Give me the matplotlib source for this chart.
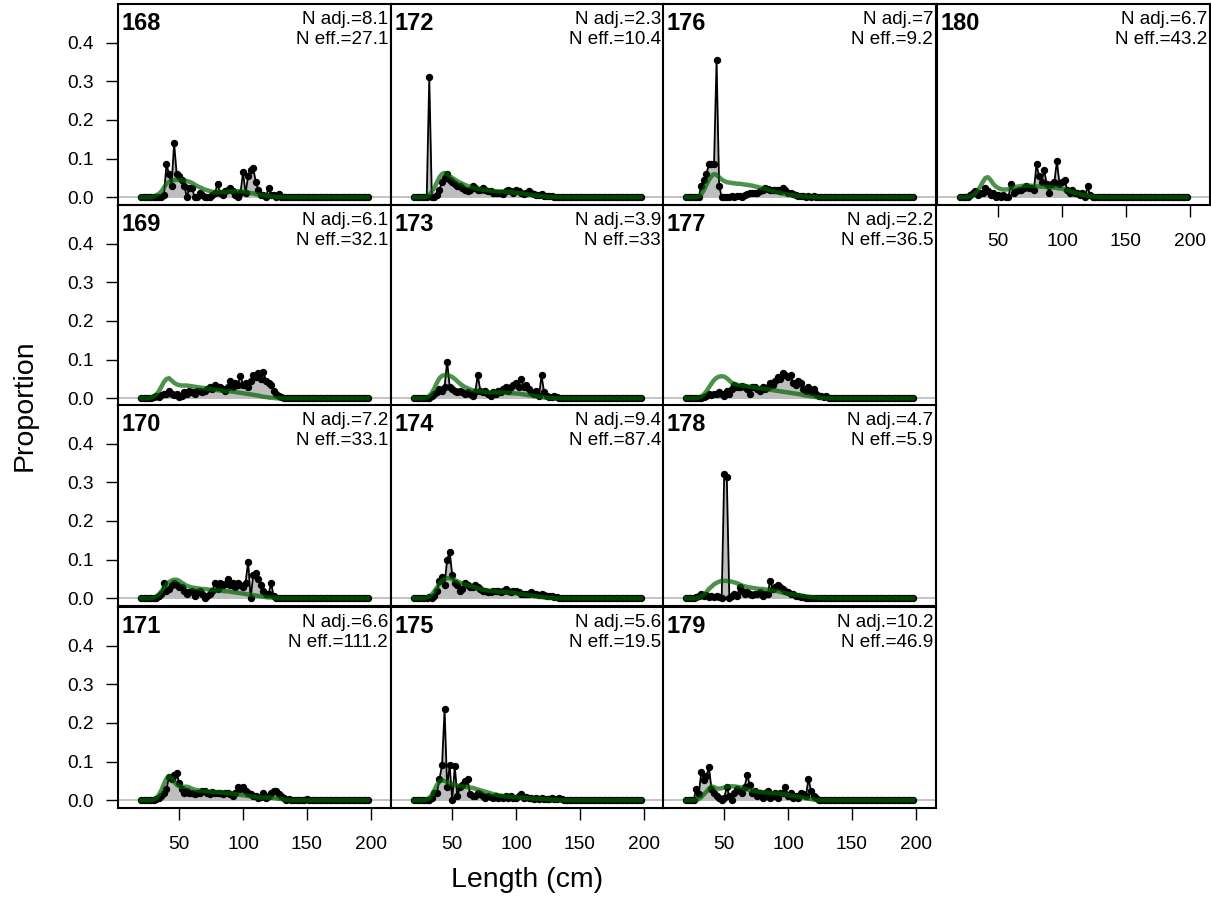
import numpy as np
import matplotlib.pyplot as plt

plt.rcParams['font.family'] = ['Liberation Sans', 'DejaVu Sans']

# length bins (cm)
lengths = np.arange(20, 200, 2)

years = [168, 169, 170, 171, 172, 173, 174, 175, 176, 177, 178, 179, 180]
n_adj = ["8.1", "6.1", "7.2", "6.6", "2.3", "3.9", "9.4", "5.6", "7", "2.2", "4.7", "10.2", "6.7"]
n_eff = ["27.1", "32.1", "33.1", "111.2", "10.4", "33", "87.4", "19.5", "9.2", "36.5", "5.9", "46.9", "43.2"]

# observed proportions, bins 20, 22, ... (rest zero)
obs168 = [0, 0, 0, 0, 0, 0, 0, 0, 0, .005,
          .085, .06, .03, .14, .06, .055, .045, .03, 0, .025,
          .025, 0, 0, .01, .005, 0, 0, 0, .005, .01,
          .035, .01, .005, .015, .02, .025, .015, .005, 0, .01,
          .065, .01, .055, .07, .075, .04, .02, .005, .005, 0,
          .025, .005, .005, 0, .008, 0, 0, 0, 0, 0]
obs169 = [0, 0, 0, 0, 0, .002, .005, .003, .008, .01,
          .012, .018, .01, .008, .012, .003, .005, .015, .01, .02,
          .015, .012, .018, .02, .015, .02, .025, .03, .025, .035,
          .03, .028, .025, .02, .03, .045, .03, .04, .035, .058,
          .035, .04, .03, .045, .06, .055, .065, .05, .068, .045,
          .04, .035, .02, .01, .005, .002, 0, 0, 0, 0]
obs170 = [0, 0, 0, 0, 0, 0, 0, .005, .01, .04,
          .02, .025, .035, .04, .035, .03, .03, .02, .01, .015,
          .02, .005, .015, .02, .01, 0, .005, .01, .02, .04,
          .025, .04, .035, .038, .05, .035, .04, .03, .04, .035,
          .03, .04, .095, 0, .06, .065, .05, .035, .02, .01,
          .01, .04, .005, 0, 0, 0, 0, 0, 0, 0]
obs171 = [0, 0, 0, 0, 0, 0, .002, .005, .01, .02,
          .03, .06, .055, .065, .07, .045, .03, .02, .025, .02,
          .02, .015, .02, .018, .025, .025, .02, .015, .022, .02,
          .018, .02, .015, .02, .018, .015, .01, .02, .035, .03,
          .035, .025, .02, .015, .01, .01, .005, .008, .02, .005,
          .01, .02, .025, .025, .015, .01, .005, 0, .002, 0,
          0, 0, 0, 0, 0, .003]
obs172 = [0, 0, 0, 0, 0, 0, .31, 0, 0, .005,
          .02, .04, .05, .06, .045, .04, .035, .03, .03, .025,
          .02, .015, .02, .03, .025, .02, .02, .025, .02, .015,
          .015, .012, .01, .012, .01, .008, .015, .02, .015, .012,
          .02, .015, .01, .008, .012, .015, .01, .008, .005, .005,
          .008, .003, .002, .002, .003, 0, 0, 0, 0, 0]
obs173 = [0, 0, 0, 0, 0, 0, 0, .005, .01, .015,
          .025, .02, .03, .095, .03, .025, .02, .015, .02, .015,
          .01, .015, .01, .005, .015, .06, .02, .015, .02, .01,
          .005, .015, .01, .02, .015, .025, .03, .02, .03, .035,
          .04, .03, .05, .03, .035, .025, .015, .01, .02, .005,
          .06, .015, .005, .002, .003, .005, .002, 0, 0, 0]
obs174 = [0, 0, 0, 0, 0, 0, .002, 0, .005, .02,
          .045, .055, .035, .1, .12, .06, .04, .035, .02, .025,
          .04, .035, .03, .03, .035, .03, .025, .02, .018, .015,
          .015, .02, .018, .02, .015, .02, .025, .018, .015, .02,
          .018, .015, .012, .01, .012, .01, .015, .012, .01, .008,
          .01, .008, .005, .005, .005, .003, .002, 0, 0, 0]
obs175 = [0, 0, 0, 0, 0, 0, 0, .005, .02, .02,
          .055, .09, .235, .035, .09, 0, .088, .01, .035, .04,
          .05, .055, .015, .01, .01, .02, .015, .01, .005, .01,
          .008, .005, .01, .005, .008, .005, .01, .005, .01, .005,
          .005, .01, .015, .005, .008, .005, .005, .003, .005, .003,
          .005, .002, .003, .002, .005, .002, .002, .005, .002, 0]
obs176 = [0, 0, 0, 0, 0, 0, .03, .045, .06, .085,
          .087, .085, .355, .03, 0, 0, 0, 0, .002, 0,
          .003, .002, 0, .005, .008, .01, .012, .01, .012, .015,
          .02, .025, .022, .018, .02, .02, .018, .015, .025, .02,
          .01, .012, .008, .005, .003, .002, .003, .001, .002, 0,
          .003, 0, 0, 0, 0, 0, 0, 0, 0, 0]
obs177 = [0, 0, 0, 0, 0, 0, 0, .002, .005, .01,
          .008, .01, .012, .015, .01, .005, .02, .01, .025, .035,
          .03, .03, .032, .03, .025, .01, .03, .028, .025, .02,
          .03, .025, .03, .04, .035, .045, .055, .05, .065, .06,
          .055, .06, .04, .035, .045, .04, .025, .02, .03, .015,
          .025, .01, .005, .005, .003, .005, 0, 0, 0, 0]
obs178 = [0, 0, 0, 0, .002, .005, .01, .005, .008, .003,
          .005, .003, .005, .002, 0, .322, .315, 0, .005, .01,
          .005, .03, .02, .01, .015, .01, .008, .012, .01, .015,
          .005, .01, .01, .045, .025, .03, .035, .03, .025, .02,
          .015, .01, .012, .005, .005, .003, .002, 0, 0, 0]
obs179 = [0, 0, 0, 0, .03, .015, .072, .052, .063, .085,
          .03, .02, .01, .005, 0, .005, .035, .01, 0, .02,
          .03, .025, .02, .035, .065, .04, .02, .025, .01, .02,
          .005, .02, .025, .005, .01, .02, .005, .02, .02, .035,
          .01, .02, .005, .01, .005, .02, .015, .01, .055, .025,
          .01, .005, 0, 0, 0, 0, 0, 0, 0, 0]
obs180 = [0, 0, 0, 0, .005, .01, .015, .005, .01, .01,
          .025, .015, .005, .01, 0, .005, 0, .005, 0, 0,
          .035, .01, .015, .02, .02, .025, .03, .025, .025, .02,
          .085, .055, .04, .07, .035, .012, .035, .04, .093, .035,
          .04, .045, .02, .01, .02, .01, .01, .005, .01, 0,
          .028, .005, 0, 0, 0, 0, 0, 0, 0, 0]

# expected proportions
exp168 = [0, 0, 0, 0, 0, .002, .005, .009, .015, .025,
          .035, .04, .042, .044, .045, .045, .044, .043, .042, .04,
          .037, .033, .029, .026, .023, .02, .018, .016, .014, .013,
          .013, .013, .013, .013, .014, .015, .015, .016, .016, .016,
          .015, .014, .012, .011, .01, .008, .007, .006, .005, .004,
          .003, .002, .002, .001, .001, .001, 0, 0, 0, 0]
exp169 = [0, 0, 0, 0, .002, .005, .01, .018, .03, .042,
          .05, .052, .046, .04, .036, .034, .033, .033, .033, .032,
          .031, .03, .029, .028, .027, .026, .025, .024, .023, .022,
          .021, .02, .02, .019, .018, .018, .017, .016, .015, .014,
          .013, .012, .011, .01, .009, .008, .007, .005, .004, .003,
          .002, .001, .001, 0, 0, 0, 0, 0, 0, 0]
exp170 = [0, 0, 0, 0, 0, .002, .005, .01, .018, .028,
          .036, .042, .046, .048, .048, .045, .04, .036, .032, .03,
          .028, .027, .026, .025, .024, .024, .023, .022, .022, .021,
          .02, .02, .019, .018, .018, .017, .016, .015, .014, .013,
          .012, .011, .01, .009, .008, .007, .006, .005, .004, .003,
          .002, .002, .001, .001, 0, 0, 0, 0, 0, 0]
exp171 = [0, 0, 0, 0, 0, .002, .006, .014, .026, .042,
          .056, .062, .058, .048, .04, .036, .034, .035, .035, .033,
          .03, .028, .026, .025, .024, .023, .023, .022, .022, .021,
          .021, .02, .02, .019, .018, .018, .017, .016, .015, .014,
          .013, .012, .011, .01, .009, .008, .007, .007, .007, .007,
          .007, .007, .006, .005, .004, .003, .002, .001, .001, 0]
exp172 = [0, 0, 0, 0, 0, .002, .006, .014, .025, .038,
          .052, .06, .063, .06, .055, .05, .046, .042, .038, .035,
          .032, .029, .027, .025, .023, .022, .021, .02, .019, .018,
          .017, .016, .016, .015, .015, .015, .014, .014, .013, .012,
          .012, .011, .01, .009, .008, .007, .006, .005, .004, .004,
          .003, .002, .002, .001, .001, .001, 0, 0, 0, 0]
exp173 = [0, 0, 0, 0, 0, .002, .006, .014, .026, .04,
          .052, .058, .06, .06, .058, .055, .05, .044, .038, .033,
          .029, .026, .023, .021, .02, .019, .018, .017, .016, .016,
          .015, .015, .015, .015, .015, .015, .014, .014, .013, .013,
          .012, .012, .011, .01, .009, .008, .007, .006, .005, .004,
          .003, .002, .002, .001, .001, 0, 0, 0, 0, 0]
exp174 = [0, 0, 0, 0, 0, .002, .005, .01, .018, .028,
          .038, .045, .05, .052, .052, .05, .047, .044, .041, .038,
          .036, .034, .032, .03, .028, .026, .024, .022, .021, .02,
          .019, .018, .018, .017, .017, .016, .016, .015, .015, .014,
          .013, .012, .011, .01, .009, .008, .007, .006, .005, .004,
          .003, .002, .002, .001, .001, 0, 0, 0, 0, 0]
exp175 = [0, 0, 0, 0, 0, .002, .006, .014, .026, .04,
          .048, .052, .05, .047, .044, .041, .039, .038, .037, .036,
          .035, .034, .033, .032, .03, .028, .026, .024, .022, .02,
          .018, .016, .015, .013, .012, .011, .01, .009, .009, .008,
          .008, .007, .007, .006, .006, .005, .005, .005, .004, .004,
          .004, .003, .003, .002, .002, .001, .001, 0, 0, 0]
exp176 = [0, 0, 0, 0, 0, .002, .008, .018, .032, .045,
          .055, .06, .058, .052, .046, .042, .039, .038, .037, .036,
          .035, .035, .034, .033, .032, .031, .03, .028, .027, .025,
          .024, .022, .02, .018, .016, .014, .012, .011, .009, .008,
          .007, .006, .005, .004, .004, .003, .002, .002, .001, .001,
          .001, 0, 0, 0, 0, 0, 0, 0, 0, 0]
exp177 = [0, 0, 0, 0, 0, .002, .005, .01, .018, .028,
          .038, .047, .053, .056, .057, .056, .052, .046, .04, .037,
          .035, .034, .033, .032, .031, .03, .029, .028, .027, .026,
          .025, .024, .023, .022, .021, .02, .019, .018, .017, .016,
          .015, .014, .013, .012, .011, .01, .008, .007, .006, .005,
          .004, .003, .002, .001, .001, 0, 0, 0, 0, 0]
exp178 = [0, 0, 0, 0, 0, .002, .005, .01, .016, .024,
          .03, .036, .04, .043, .045, .045, .045, .044, .043, .041,
          .039, .036, .033, .031, .029, .028, .027, .026, .025, .024,
          .024, .023, .022, .021, .02, .019, .018, .016, .015, .013,
          .012, .011, .01, .009, .008, .007, .006, .005, .004, .003,
          .002, .002, .001, .001, 0, 0, 0, 0, 0, 0]
exp179 = [0, 0, 0, 0, 0, .003, .008, .015, .022, .03,
          .036, .034, .031, .03, .031, .033, .035, .036, .036, .036,
          .035, .034, .032, .03, .028, .026, .025, .024, .023, .022,
          .021, .02, .02, .019, .019, .018, .018, .017, .016, .015,
          .014, .012, .011, .01, .009, .008, .007, .005, .004, .003,
          .002, .001, .001, 0, 0, 0, 0, 0, 0, 0]
exp180 = [0, 0, 0, 0, .002, .005, .01, .018, .028, .04,
          .05, .052, .045, .035, .028, .024, .021, .02, .02, .021,
          .023, .025, .027, .028, .029, .03, .03, .03, .03, .029,
          .028, .028, .027, .027, .026, .026, .025, .025, .024, .023,
          .022, .02, .018, .016, .014, .012, .01, .008, .006, .005,
          .004, .003, .002, .001, .001, 0, 0, 0, 0, 0]

obs_all = [obs168, obs169, obs170, obs171, obs172, obs173, obs174,
           obs175, obs176, obs177, obs178, obs179, obs180]
exp_all = [exp168, exp169, exp170, exp171, exp172, exp173, exp174,
           exp175, exp176, exp177, exp178, exp179, exp180]


def pad(v):
    a = np.zeros(len(lengths))
    a[:len(v)] = v
    return a


W, H = 1211, 911
fig = plt.figure(figsize=(W / 100, H / 100), dpi=100)

col_left = [118, 391, 663, 937]
row_top = [4, 205, 405, 607]
pw, ph = 273, 201

for k, yr in enumerate(years):
    c, r = divmod(k, 4)
    x0, y0 = col_left[c], row_top[r]
    ax = fig.add_axes([x0 / W, 1 - (y0 + ph) / H, pw / W, ph / H])
    obs = pad(obs_all[k])
    ex = pad(exp_all[k])
    ax.axhline(0, color='#bebebe', lw=1.3, zorder=1)
    ax.fill_between(lengths, 0, obs, color='#bebebe', lw=0, zorder=2)
    ax.plot(lengths, obs, '-o', color='black', lw=1.3, ms=4.3, zorder=3)
    ax.plot(lengths, ex, color='#006400', alpha=0.7, lw=3.2, zorder=4)
    ax.set_xlim(2, 216)
    ax.set_ylim(-0.02, 0.5)
    for s in ax.spines.values():
        s.set_linewidth(1.5)

    ax.annotate(str(yr), xy=(0, 1), xycoords='axes fraction',
                xytext=(2.5, -18.5), textcoords='offset points',
                ha='left', va='baseline', fontsize=17, fontweight='bold')
    ax.annotate("N adj.=" + n_adj[k], xy=(1, 1), xycoords='axes fraction',
                xytext=(-2, -14.5), textcoords='offset points',
                ha='right', va='baseline', fontsize=13.6)
    ax.annotate("N eff.=" + n_eff[k], xy=(1, 1), xycoords='axes fraction',
                xytext=(-2, -28.5), textcoords='offset points',
                ha='right', va='baseline', fontsize=13.6)

    ax.set_yticks([0, 0.1, 0.2, 0.3, 0.4])
    ax.set_xticks([50, 100, 150, 200])
    show_x = (r == 3) or (yr == 180)
    ax.tick_params(axis='x', bottom=show_x, labelbottom=show_x,
                   length=8.5, width=1, labelsize=13.8, pad=12)
    ax.tick_params(axis='y', left=(c == 0), labelleft=(c == 0),
                   length=8.5, width=1, labelsize=13.8, pad=9)
    if c == 0:
        ax.set_yticklabels(["0.0", "0.1", "0.2", "0.3", "0.4"])

fig.text(25 / W, 1 - 405 / H, "Proportion", rotation=90,
         ha='center', va='center', fontsize=20.5)
fig.text(527 / W, 1 - 880 / H, "Length (cm)",
         ha='center', va='center', fontsize=20.5)

fig.savefig('out.png', dpi=100)
